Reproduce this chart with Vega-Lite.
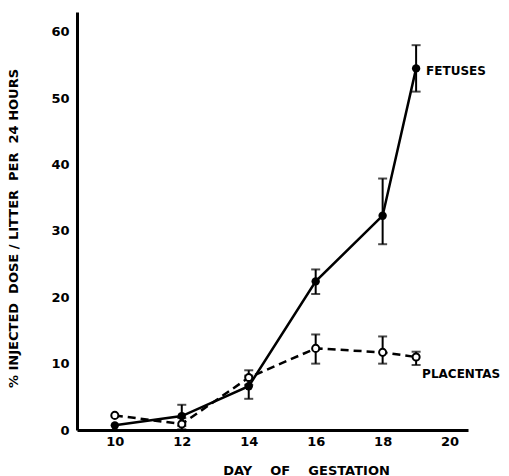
{
  "$schema": "https://vega.github.io/schema/vega-lite/v6.json",
  "width": 391,
  "height": 418,
  "autosize": "none",
  "padding": {"left": 77, "top": 12, "right": 41, "bottom": 46},
  "background": "white",
  "data": {
    "values": [
      {"series": "Fetuses", "day": 10, "value": 0.7, "lo": null, "hi": null},
      {"series": "Fetuses", "day": 12, "value": 2.1, "lo": 0.6, "hi": 3.8},
      {"series": "Fetuses", "day": 14, "value": 6.6, "lo": 4.7, "hi": 8.2},
      {"series": "Fetuses", "day": 16, "value": 22.4, "lo": 20.5, "hi": 24.2},
      {"series": "Fetuses", "day": 18, "value": 32.3, "lo": 28.0, "hi": 37.9},
      {"series": "Fetuses", "day": 19, "value": 54.5, "lo": 51.0, "hi": 58.0},
      {"series": "Placentas", "day": 10, "value": 2.2, "lo": null, "hi": null},
      {"series": "Placentas", "day": 12, "value": 0.9, "lo": 0.1, "hi": 1.8},
      {"series": "Placentas", "day": 14, "value": 7.9, "lo": 6.8, "hi": 9.0},
      {"series": "Placentas", "day": 16, "value": 12.3, "lo": 10.0, "hi": 14.4},
      {"series": "Placentas", "day": 18, "value": 11.7, "lo": 10.0, "hi": 14.1},
      {"series": "Placentas", "day": 19, "value": 11.0, "lo": 9.8, "hi": 11.8}
    ]
  },
  "encoding": {
    "x": {
      "field": "day",
      "type": "quantitative",
      "scale": {"domain": [8.87, 20.55], "nice": false, "zero": false},
      "axis": {
        "values": [10, 12, 14, 16, 18, 20],
        "title": "DAY\u00a0\u00a0\u00a0\u00a0OF\u00a0\u00a0\u00a0\u00a0GESTATION",
        "titleX": 229,
        "titleY": 44,
        "titleBaseline": "alphabetic",
        "grid": false,
        "ticks": false,
        "domainWidth": 3,
        "domainColor": "black",
        "labelPadding": 5
      }
    },
    "y": {
      "field": "value",
      "type": "quantitative",
      "scale": {"domain": [0, 63], "nice": false},
      "axis": {
        "values": [0, 10, 20, 30, 40, 50, 60],
        "title": "%\u00a0INJECTED\u00a0\u00a0DOSE\u00a0/\u00a0LITTER\u00a0\u00a0PER\u00a0\u00a024\u00a0HOURS",
        "titleX": -57,
        "titleY": 216,
        "grid": false,
        "ticks": false,
        "domainWidth": 3,
        "domainColor": "black",
        "labelPadding": 8
      }
    }
  },
  "layer": [
    {
      "mark": {"type": "rule", "color": "black", "strokeWidth": 2},
      "encoding": {"y": {"field": "lo", "type": "quantitative"}, "y2": {"field": "hi"}}
    },
    {
      "mark": {"type": "tick", "orient": "horizontal", "color": "black", "size": 9, "thickness": 2},
      "encoding": {"y": {"field": "lo", "type": "quantitative"}}
    },
    {
      "mark": {"type": "tick", "orient": "horizontal", "color": "black", "size": 9, "thickness": 2},
      "encoding": {"y": {"field": "hi", "type": "quantitative"}}
    },
    {
      "transform": [{"filter": "datum.series === 'Placentas'"}],
      "mark": {"type": "line", "color": "black", "strokeWidth": 2.5, "strokeDash": [8, 5]},
      "encoding": {}
    },
    {
      "transform": [{"filter": "datum.series === 'Fetuses'"}],
      "mark": {"type": "line", "color": "black", "strokeWidth": 2.5},
      "encoding": {}
    },
    {
      "transform": [{"filter": "datum.series === 'Placentas'"}],
      "mark": {"type": "point", "shape": "circle", "size": 50, "filled": true, "fill": "white", "stroke": "black", "strokeWidth": 2, "opacity": 1},
      "encoding": {}
    },
    {
      "transform": [{"filter": "datum.series === 'Fetuses'"}],
      "mark": {"type": "point", "shape": "circle", "size": 70, "filled": true, "color": "black", "opacity": 1},
      "encoding": {}
    },
    {
      "transform": [{"filter": "datum.series === 'Fetuses' && datum.day === 19"}],
      "mark": {"type": "text", "align": "left", "baseline": "middle", "dx": 10, "dy": 3, "fontSize": 12, "fontWeight": "bold", "font": "DejaVu Sans"},
      "encoding": {"text": {"value": "FETUSES"}}
    },
    {
      "transform": [{"filter": "datum.series === 'Placentas' && datum.day === 19"}],
      "mark": {"type": "text", "align": "left", "baseline": "middle", "dx": 6, "dy": 17, "fontSize": 12, "fontWeight": "bold", "font": "DejaVu Sans"},
      "encoding": {"text": {"value": "PLACENTAS"}}
    }
  ],
  "config": {
    "view": {"stroke": null},
    "axis": {
      "labelFont": "DejaVu Sans",
      "labelFontWeight": "bold",
      "labelFontSize": 13,
      "labelColor": "black",
      "titleFont": "DejaVu Sans",
      "titleFontWeight": "bold",
      "titleFontSize": 13,
      "titleColor": "black"
    }
  }
}
